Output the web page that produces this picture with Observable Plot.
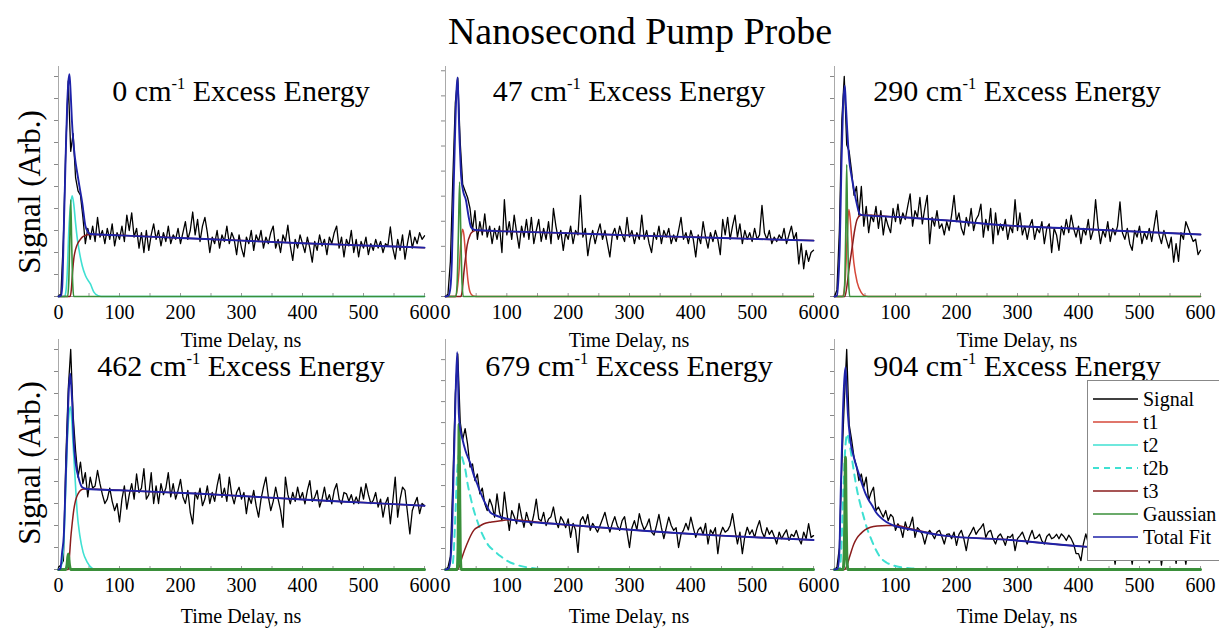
<!DOCTYPE html>
<html><head><meta charset="utf-8">
<script src="https://cdn.jsdelivr.net/npm/d3@7"></script>
<script src="https://cdn.jsdelivr.net/npm/@observablehq/plot@0.6"></script>
<style>
body{margin:0;background:#fff;}
#root{position:relative;width:1219px;height:628px;overflow:hidden;background:#fff;font-family:"Liberation Serif","Times New Roman",serif;color:#000;}
.abs{position:absolute;white-space:nowrap;line-height:1;}
.ctr{transform:translate(-50%,-50%);}
sup{font-size:0.55em;vertical-align:0.75em;line-height:0;}
</style></head><body><div id="root"></div>
<script>
// ---------- data ----------
const mainTitle = "Nanosecond Pump Probe";
const energies = ["0","47","290","462","679","904"];
const xTickLabels = [0,100,200,300,400,500,600];
const xMinorTicks = [0,50,100,150,200,250,300,350,400,450,500,550,600];
const yTickStep = [0.5,0.57,0.5,0.5,0.477,0.5];
const sampleStep = 4; // ns between signal samples

const sig0 = [0.02,0.05,1.3,3.4,4.9,3.3,3.7,2.7,2.4,2.3,
1.8,1.2,1.55,1.3,1.6,1.25,1.8,1.35,1.5,1.2,
1.55,1.3,1.65,1.15,1.45,1.3,1.6,1.25,1.85,1.5,
1.9,1.35,1.55,1.1,1.45,1.0,1.5,1.05,1.4,1.65,
1.3,1.5,1.15,1.45,1.25,1.6,1.2,1.4,1.3,1.55,
1.2,1.45,1.7,1.3,1.5,1.92,1.4,1.75,1.25,1.6,
1.8,1.45,1.0,1.35,1.2,1.5,1.1,1.4,1.25,1.6,
1.2,1.45,1.3,0.95,1.4,1.1,0.9,1.35,1.2,1.5,
1.05,1.4,1.25,1.5,1.1,1.35,1.2,1.45,1.6,1.1,
1.3,1.0,1.4,1.25,1.62,1.15,0.82,1.3,1.1,1.4,
1.2,1.0,1.35,1.1,0.78,1.25,1.05,1.4,1.15,1.3,
0.95,1.35,1.2,1.45,1.6,1.1,1.35,0.9,1.3,1.15,
1.5,1.0,1.3,0.9,1.25,1.1,1.35,0.95,1.2,1.05,
1.3,1.1,1.25,1.0,1.2,1.15,1.58,1.1,0.85,1.3,
1.05,1.4,0.85,1.2,1.5,1.1,1.35,1.2,1.45,1.3,
1.38];
const sig1 = [0.0,0.05,0.8,2.7,4.4,4.97,3.5,2.55,2.4,2.25,
2.0,1.5,1.95,1.3,1.7,1.4,1.88,1.35,1.6,1.2,
1.55,1.3,1.6,1.0,2.2,1.4,1.7,1.3,1.85,1.45,
1.1,1.6,1.35,1.75,1.3,1.8,1.2,1.5,1.75,1.25,
1.55,1.3,1.7,1.2,2.0,1.6,1.3,1.5,1.05,1.45,
1.3,1.6,1.2,1.5,1.4,2.3,1.35,1.55,0.93,1.3,
1.5,1.2,1.45,1.65,1.3,1.5,1.2,0.9,1.4,1.55,
1.3,1.6,1.4,1.25,1.8,1.35,1.5,1.2,1.45,1.3,
1.85,1.3,1.5,1.2,1.0,1.45,1.3,1.6,1.2,1.5,
1.35,1.55,1.2,1.4,1.25,1.5,1.8,1.3,1.45,1.2,
1.5,1.3,0.9,1.4,1.2,1.7,1.35,1.1,1.45,1.25,
1.5,1.3,0.95,1.75,1.4,1.8,1.3,1.6,1.85,1.35,
1.65,1.2,1.5,1.3,1.45,1.25,1.55,1.3,1.4,2.07,
1.45,1.3,1.5,1.2,1.35,1.25,1.4,1.3,1.55,1.2,
1.4,1.6,1.3,1.45,0.74,1.2,0.63,1.05,0.8,1.0,
1.05];
const sig2 = [0.0,0.15,1.5,4.0,5.0,3.45,3.3,2.85,2.3,2.5,
1.85,2.5,1.6,2.05,1.45,1.85,1.7,2.05,1.55,1.95,
1.4,1.8,1.6,1.45,2.0,1.7,2.1,1.65,1.9,1.75,
2.05,2.33,1.6,1.95,1.8,2.25,1.65,2.0,2.3,1.2,
1.8,1.6,1.95,1.55,1.65,1.4,1.7,1.5,1.85,2.3,
1.7,1.9,1.55,1.4,1.8,1.6,2.0,1.5,1.75,1.85,
2.1,1.35,1.75,1.5,2.0,1.2,1.9,1.4,1.65,1.5,
1.75,1.3,1.6,1.45,2.2,1.5,1.9,1.4,1.6,1.3,
1.6,1.75,1.3,1.55,1.45,1.7,1.2,1.55,1.65,1.0,
1.55,1.4,1.05,1.6,1.4,1.75,1.45,1.85,1.55,1.35,
1.6,1.2,1.55,1.4,1.75,1.3,1.5,2.2,1.6,1.2,
1.5,1.35,1.7,1.25,1.55,1.4,1.6,2.15,1.45,1.3,
1.55,1.2,1.05,1.5,1.35,1.6,1.2,1.45,1.3,1.55,
1.25,1.6,1.95,1.4,1.2,1.5,1.3,1.1,1.35,0.78,
1.2,0.8,1.45,1.3,1.7,1.55,1.4,1.25,1.3,0.95,
1.05];
const sig3 = [0.05,0.1,0.2,2.5,4.1,5.0,3.5,2.7,2.1,2.44,
1.95,2.2,1.65,2.1,1.85,1.9,2.25,1.95,1.7,1.5,
1.6,1.85,1.55,1.34,1.5,1.08,1.6,1.9,1.37,1.7,
1.95,1.6,2.17,1.75,1.85,2.29,1.6,1.7,2.2,1.5,
1.9,1.5,1.95,1.7,1.85,2.2,1.65,1.95,1.6,1.8,
2.05,1.65,1.5,1.8,1.3,1.04,1.75,1.6,1.85,1.45,
1.6,1.9,1.5,1.75,1.55,1.9,2.17,1.64,1.85,1.55,
2.1,1.7,1.49,1.75,1.87,1.6,1.75,1.27,1.65,1.5,
1.8,1.45,1.19,1.6,1.87,2.1,1.65,1.34,1.55,1.87,
1.6,1.35,0.96,2.1,1.7,1.49,1.75,1.55,1.87,1.6,
1.75,1.49,1.8,2.02,1.55,1.64,1.8,1.42,1.6,1.87,
1.55,1.7,1.49,1.8,1.95,1.6,1.49,1.75,1.72,1.55,
1.7,1.49,1.65,1.5,1.87,1.6,1.95,1.7,1.5,1.57,
1.75,1.42,1.6,1.19,1.5,1.64,1.04,1.55,2.1,1.19,
1.6,1.87,1.8,1.3,0.81,1.34,1.5,1.64,1.27,1.5,
1.45];
const sig4 = [0.0,0.05,0.3,2.0,4.0,4.9,3.35,2.95,3.2,2.85,
2.33,2.4,2.02,2.17,1.72,1.85,1.5,1.34,1.6,1.45,
1.19,1.72,1.3,1.11,1.76,1.3,0.89,1.34,1.2,1.04,
1.5,1.2,0.96,1.3,1.1,1.0,1.25,1.6,1.15,1.1,
1.3,1.0,1.15,1.2,1.42,1.1,0.95,1.2,1.1,0.95,
1.15,0.73,1.05,0.9,0.39,1.11,1.2,1.04,1.25,0.89,
1.05,0.95,0.85,1.0,1.15,1.3,1.05,0.85,1.05,1.2,
1.0,0.89,1.11,1.2,0.85,0.5,0.95,1.11,0.9,1.27,
1.05,0.9,1.0,1.15,0.85,0.78,1.0,1.25,0.95,0.7,
0.95,1.19,1.0,0.89,0.95,0.5,0.8,0.89,1.05,0.9,
1.19,0.95,0.73,0.9,0.96,0.8,1.05,0.58,0.9,0.81,
0.95,0.36,0.8,0.96,0.85,0.89,1.0,1.27,0.9,0.58,
0.85,0.36,0.75,0.96,0.8,0.9,0.73,0.95,1.11,0.85,
0.73,0.95,0.8,0.89,0.75,0.58,0.85,0.7,0.81,0.9,
0.66,0.8,0.75,0.89,0.7,0.58,0.85,0.7,1.04,0.73,
0.77];
const sig5 = [0.0,0.05,0.5,2.4,3.8,5.0,3.3,2.95,2.55,2.35,
2.02,2.17,1.87,2.1,1.57,1.75,1.87,1.34,1.42,1.3,
1.19,1.34,1.11,1.25,1.19,0.89,1.04,0.95,0.73,1.08,
0.89,1.0,1.19,0.73,0.95,0.89,0.8,0.58,0.8,0.89,
0.8,0.7,0.85,0.89,0.75,0.58,0.8,0.81,0.7,0.85,
0.55,0.8,0.89,0.7,0.43,0.75,0.85,0.96,0.8,0.89,
0.95,1.04,0.73,0.85,0.89,0.7,0.58,0.75,0.81,0.7,
0.55,0.75,0.73,0.8,0.43,0.7,0.77,0.85,0.7,0.58,
0.75,0.89,0.7,0.73,0.8,0.65,0.58,0.75,0.81,0.7,
0.73,0.8,0.7,0.81,0.75,0.66,0.78,0.7,0.58,0.36,
0.36,0.2,0.58,0.81,0.6,0.7,0.55,0.65,0.5,0.7,
0.55,0.65,0.45,0.6,0.5,0.12,0.55,0.6,0.45,0.55,
0.6,0.45,0.12,0.55,0.5,0.6,0.45,0.55,0.5,0.15,
0.5,0.6,0.45,0.55,0.1,0.5,0.55,0.45,0.6,0.5,
0.14,0.55,0.5,0.45,0.12,0.55,0.5,0.6,0.45,0.55,
0.5];

// fit components: [time ns, signal]
const total0 = [[0,0],[4,0.02],[6,0.2],[8.7,1.53],[11.5,3.05],[14.2,4.34],[16,4.85],[18,5.05],[20,4.6],[22,4.0],[24,3.57],[27,3.15],[30.6,2.82],[35,2.45],[38.8,2.14],[44,1.61],[48,1.47],[52,1.42],[100,1.39],[200,1.33],[300,1.27],[400,1.21],[500,1.16],[600,1.11]];
const t2_0 = [[0,0],[10,0],[12,0.1],[14.2,0.5],[17,1.53],[20,2.1],[22.4,2.29],[25,2.1],[27.9,1.68],[30.5,1.35],[33.4,1.08],[38.9,0.7],[44.3,0.47],[52.5,0.28],[58,0.1],[65,0.02],[70,0],[600,0]];
const t3_0 = [[0,0],[19,0],[21,0.15],[23,0.55],[25,0.85],[28,1.07],[32,1.22],[36,1.3],[40,1.36],[44,1.39],[50,1.41],[60,1.41],[100,1.39],[200,1.33],[300,1.27],[400,1.21],[500,1.16],[600,1.11]];
const gauss0 = [[0,0],[15,0],[17,0.4],[18.5,1.3],[20,2.2],[21.5,1.3],[23,0.4],[25,0],[600,0]];

const total1 = [[0,0],[5,0.02],[8,0.2],[10.3,0.77],[13,2.29],[15.8,3.8],[18,4.7],[19.6,4.98],[21,4.5],[22.3,3.8],[24,3.2],[25.5,2.74],[29.3,2.36],[33,2.21],[37.5,1.83],[41.8,1.57],[48.4,1.51],[100,1.48],[200,1.44],[300,1.39],[400,1.35],[500,1.31],[600,1.27]];
const t1_1 = [[0,0],[16,0],[19,0.15],[22.3,0.62],[25,1.23],[27.7,1.53],[30,1.4],[32,1.08],[34,0.75],[36.4,0.39],[40.3,0.09],[45,0.01],[50,0],[600,0]];
const t3_1 = [[0,0],[25,0],[27,0.1],[30,0.55],[33,0.92],[35.3,1.16],[40.8,1.42],[45,1.48],[49,1.5],[100,1.48],[200,1.44],[300,1.39],[400,1.35],[500,1.31],[600,1.27]];
const gauss1 = [[0,0],[17,0],[19,0.3],[21,1.4],[23,2.6],[25,1.4],[27,0.3],[29,0],[600,0]];

const total2 = [[0,0],[4,0.02],[6,0.3],[8.7,1.16],[11.5,3.05],[14,4.3],[16.9,4.79],[18.5,4.4],[20.8,3.8],[24,3.12],[27.9,2.74],[31.7,2.44],[36,2.14],[41.5,1.87],[46,1.85],[100,1.81],[125,1.79],[200,1.71],[288,1.61],[400,1.54],[500,1.47],[600,1.41]];
const t1_2 = [[0,0],[13,0],[15.5,0.1],[18,0.47],[20.8,1.38],[23.5,1.98],[25.5,1.8],[27.9,1.38],[31.7,0.77],[37.2,0.32],[44,0.09],[50,0.01],[55,0],[600,0]];
const t3_2 = [[0,0],[17,0],[20,0.2],[24,0.65],[29,1.12],[33,1.5],[37,1.75],[42,1.84],[46,1.85],[100,1.81],[125,1.79],[200,1.71],[288,1.61],[400,1.54],[500,1.47],[600,1.41]];
const gauss2 = [[0,0],[15,0],[17,0.4],[18.5,1.5],[20,3.0],[21.5,1.5],[23,0.4],[25,0],[600,0]];

const total3 = [[0,0],[3,0.02],[6,0.4],[8.7,0.77],[11.5,1.91],[14.2,3.05],[17,4.1],[19.2,4.45],[20.8,4.2],[22.4,3.8],[25.1,2.89],[27.9,2.44],[33.3,2.06],[38.8,1.87],[47,1.83],[100,1.8],[233,1.72],[300,1.67],[400,1.59],[500,1.52],[600,1.45]];
const t2_3 = [[0,0],[3,0],[6,0.2],[8.7,0.6],[11.5,1.68],[14.2,2.82],[17,3.5],[19.5,3.7],[21.5,3.45],[24,2.82],[27.9,1.91],[30.6,1.3],[35,0.77],[40.4,0.39],[47,0.17],[55,0.03],[62,0],[600,0]];
const t3_3 = [[0,0],[16,0],[18,0.3],[20,0.7],[22.4,1.04],[25,1.35],[28,1.57],[32,1.72],[36,1.8],[42,1.83],[47,1.83],[100,1.8],[233,1.72],[300,1.67],[400,1.59],[500,1.52],[600,1.45]];
const gauss3 = [[0,0],[12,0],[14,0.1],[16,0.35],[18,0.1],[20,0],[600,0]];

const total4 = [[0,0],[5,0.02],[8,0.2],[11,1.0],[13.6,2.4],[16,3.7],[19,4.94],[20.5,4.3],[21.7,3.54],[24,3.2],[27,3.0],[32.6,2.7],[40.8,2.4],[46,2.15],[51.6,1.95],[57,1.75],[62.5,1.57],[68,1.42],[73,1.3],[80,1.24],[90,1.19],[117,1.11],[177,1.04],[285,0.92],[448,0.77],[600,0.67]];
const t2b_4 = [[0,0],[10,0],[13,0.3],[16,1.2],[19,2.2],[22,2.62],[24.5,2.67],[28,2.5],[32.6,2.25],[36,1.95],[40.8,1.64],[46,1.35],[51.6,1.11],[57,0.9],[62.5,0.73],[70,0.55],[79,0.43],[90,0.3],[100,0.2],[115,0.11],[133,0.05],[150,0.02],[165,0],[600,0]];
const t3_4 = [[0,0],[20,0],[22,0.05],[27,0.28],[35,0.58],[46,0.89],[55,0.98],[62.5,1.04],[75,1.08],[90,1.11],[110,1.13],[130,1.11],[177,1.04],[285,0.92],[448,0.77],[600,0.67]];
const gauss4 = [[0,0],[19,0],[20.5,0.5],[21.5,2.0],[22.2,3.3],[23,2.0],[24,0.5],[25.5,0],[600,0]];

const total5 = [[0,0],[5,0.02],[8,0.4],[10,1.64],[13.7,3.54],[16,4.3],[18,4.6],[19.5,4.2],[21.9,3.54],[26,2.93],[31.7,2.55],[40,2.17],[45,1.95],[51,1.72],[56,1.58],[62,1.45],[68,1.3],[75,1.19],[85,1.08],[97,1.0],[125,0.91],[179,0.77],[289,0.67],[409,0.52],[500,0.47],[600,0.42]];
const t2b_5 = [[0,0],[8,0],[11,0.4],[14,1.6],[17,2.6],[20.8,3.08],[24,2.9],[29,2.48],[33,2.12],[37,1.8],[42,1.5],[48,1.19],[53,0.95],[59,0.73],[66,0.5],[75,0.28],[85,0.16],[97,0.09],[110,0.05],[130,0.02],[160,0],[600,0]];
const t3_5 = [[0,0],[17,0],[20,0.08],[25,0.3],[31.7,0.58],[37,0.72],[42.6,0.81],[50,0.9],[59,0.96],[70,0.99],[86,1.0],[103,1.0],[115,0.96],[130,0.91],[179,0.77],[289,0.67],[409,0.52],[500,0.47],[600,0.42]];
const gauss5 = [[0,0],[14,0],[16,0.4],[17,1.3],[18,2.55],[19,1.3],[20,0.4],[22,0],[600,0]];

const legendNames = ["Signal","t1","t2","t2b","t3","Gaussian","Total Fit"];

// ---------- styling / layout ----------
const colors = {Signal:"#000000", t1:"#d6483a", t2:"#3fe0d2", t2b:"#3fe0d2", t3:"#8a1c1c", Gaussian:"#3a8f3a", "Total Fit":"#1e22a8"};
const colX = [58, 445, 834], colW = [366, 368, 366];
const rowY = [66, 339], plotH = 230, pxPerUnit = 44;
const mL = 40, mR = 30, mT = 5, mB = 60;
const serif = "'Liberation Serif','Times New Roman',serif";

const sigs = [sig0,sig1,sig2,sig3,sig4,sig5];
const comps = [
  {total: total0, t2: t2_0, t3: t3_0, Gaussian: gauss0},
  {total: total1, t1: t1_1, t3: t3_1, Gaussian: gauss1},
  {total: total2, t1: t1_2, t3: t3_2, Gaussian: gauss2},
  {total: total3, t2: t2_3, t3: t3_3, Gaussian: gauss3},
  {total: total4, t2b: t2b_4, t3: t3_4, Gaussian: gauss4},
  {total: total5, t2b: t2b_5, t3: t3_5, Gaussian: gauss5}
];

const root = document.getElementById("root");
function addText(html, x, y, size, extra="") {
  const d = document.createElement("div");
  d.className = "abs ctr";
  d.style.cssText += `left:${x}px;top:${y}px;font-size:${size}px;${extra}`;
  d.innerHTML = html;
  root.appendChild(d);
  return d;
}

const yMax = plotH / pxPerUnit;
function fit(pts, key, w = 1.5, extra = {}) {
  return Plot.line(pts, {x: d => d[0], y: d => d[1], stroke: colors[key], strokeWidth: w, curve: "monotone-x", ...extra});
}

sigs.forEach((sig, i) => {
  const col = i % 3, row = Math.floor(i / 3);
  const c = comps[i];
  const sigData = sig.map((v, k) => ({t: k * sampleStep, v}));
  const yTicks = d3.range(0, yMax + 1e-6, yTickStep[i]);
  const marks = [
    Plot.ruleY([0], {stroke: "#999"}),
    Plot.ruleX([0], {stroke: "#aaa"}),
    Plot.axisY({ticks: yTicks, tickSize: 4, tickFormat: () => "", stroke: "#888", label: null}),
    Plot.axisX({ticks: xMinorTicks, tickSize: 3, dy: -3, tickFormat: () => "", stroke: "#999", label: null}),
    Plot.axisX({ticks: xTickLabels, tickSize: 0, tickPadding: 8, fontSize: 20, fill: "#000", label: null}),
    Plot.line(sigData, {x: "t", y: "v", stroke: colors.Signal, strokeWidth: 1.3})
  ];
  if (c.t1) marks.push(fit(c.t1, "t1"));
  if (c.t2) marks.push(fit(c.t2, "t2", 1.6));
  if (c.t2b) marks.push(fit(c.t2b, "t2b", 2, {strokeDasharray: "7,6"}));
  if (c.t3) marks.push(fit(c.t3, "t3"));
  marks.push(fit(c.Gaussian, "Gaussian", row === 0 ? 1.6 : 3));
  marks.push(fit(c.total, "Total Fit", 1.9));
  const svg = Plot.plot({
    width: colW[col] + mL + mR, height: plotH + mT + mB,
    marginLeft: mL, marginRight: mR, marginTop: mT, marginBottom: mB,
    x: {domain: [0, 600], label: null},
    y: {domain: [0, yMax], label: null},
    style: {fontFamily: serif, fontSize: "20px", overflow: "visible", background: "transparent", color: "#000"},
    marks
  });
  svg.style.position = "absolute";
  svg.style.left = (colX[col] - mL) + "px";
  svg.style.top = (rowY[row] - mT) + "px";
  svg.style.maxWidth = "none";
  root.appendChild(svg);
});

// texts
addText(mainTitle, 640, 31, 38);
const titleY = [91, 366], axisTitleY = [340, 616];
energies.forEach((e, i) => {
  const col = i % 3, row = Math.floor(i / 3);
  const cx = colX[col] + colW[col] / 2;
  addText(`${e} cm<sup>-1</sup> Excess Energy`, cx, titleY[row], 30);
  addText("Time Delay, ns", cx, axisTitleY[row], 20);
});
[192, 463].forEach(y => addText("Signal (Arb.)", 29, y, 31, "transform:translate(-50%,-50%) rotate(-90deg);"));

// legend
const lg = document.createElement("div");
lg.className = "abs";
lg.style.cssText += "left:1087px;top:380px;width:150px;height:181px;border:1px solid #888;background:#fff;box-sizing:border-box;padding-top:6px;";
legendNames.forEach(n => {
  const r = document.createElement("div");
  r.style.cssText = "height:23px;display:flex;align-items:center;font-size:20px;";
  const dash = n === "t2b" ? "stroke-dasharray='6,5' stroke-width='2'" : "stroke-width='1.6'";
  r.innerHTML = `<svg width="50" height="10" style="margin-left:5px;flex:none"><line x1="0" y1="5" x2="45" y2="5" stroke="${colors[n]}" ${dash}/></svg><span style="margin-left:0px">${n}</span>`;
  lg.appendChild(r);
});
root.appendChild(lg);
</script></body></html>
